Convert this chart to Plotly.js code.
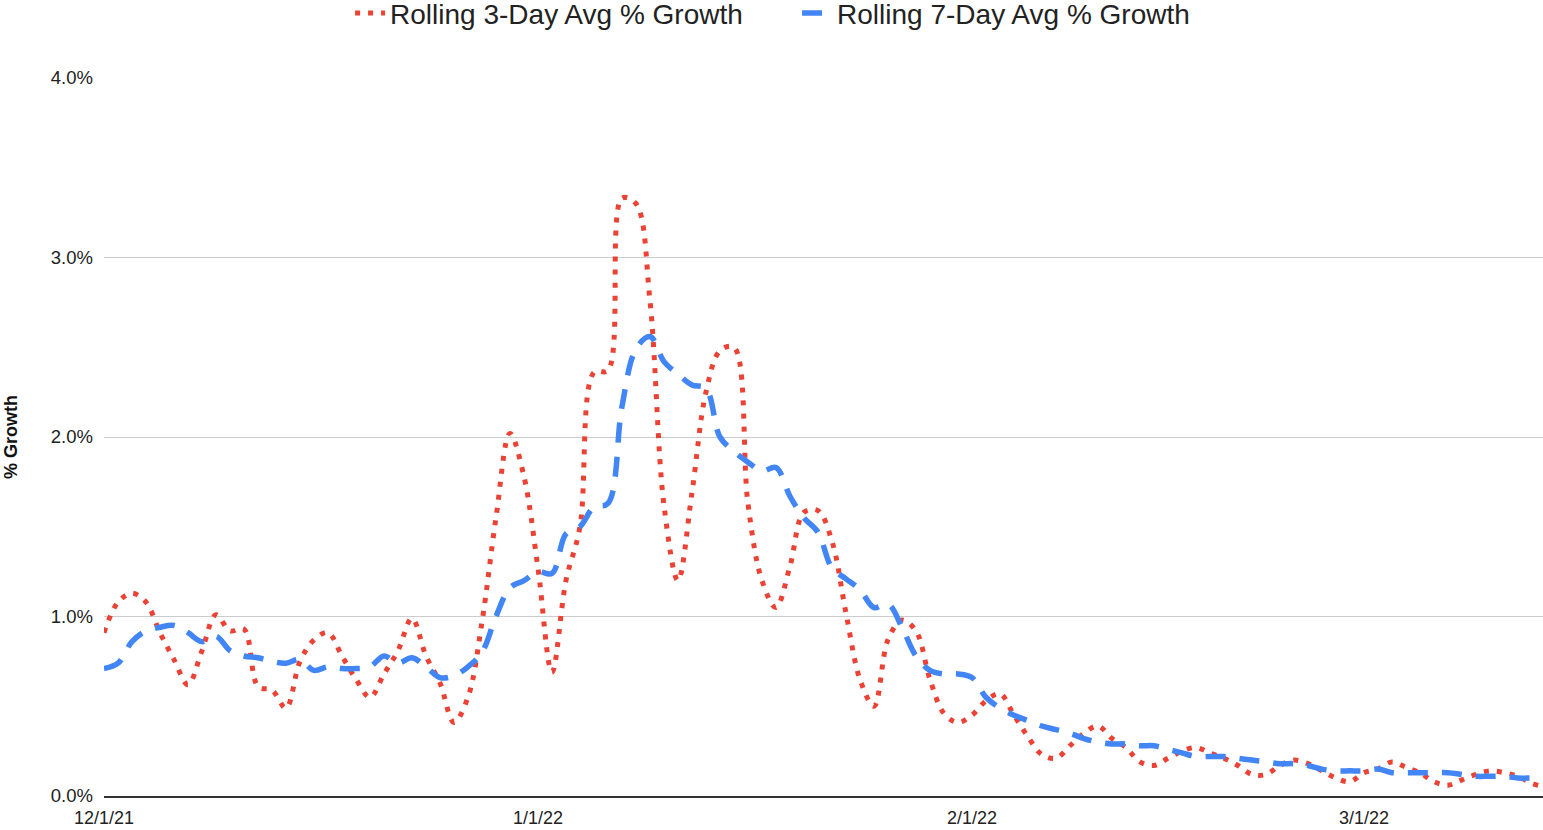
<!DOCTYPE html>
<html>
<head>
<meta charset="utf-8">
<script src="https://cdn.plot.ly/plotly-3.0.1.min.js"></script>
<style>html,body{margin:0;padding:0;background:#fff;}#chart{width:1543px;height:830px;}</style>
</head>
<body>
<div id="chart"></div>
<script>
const dates = [
'2021-12-01','2021-12-02','2021-12-03','2021-12-04','2021-12-05','2021-12-06','2021-12-07','2021-12-08','2021-12-09','2021-12-10',
'2021-12-11','2021-12-12','2021-12-13','2021-12-14','2021-12-15','2021-12-16','2021-12-17','2021-12-18','2021-12-19','2021-12-20',
'2021-12-21','2021-12-22','2021-12-23','2021-12-24','2021-12-25','2021-12-26','2021-12-27','2021-12-28','2021-12-29','2021-12-30',
'2021-12-31','2022-01-01','2022-01-02','2022-01-03','2022-01-04','2022-01-05','2022-01-06','2022-01-07','2022-01-08','2022-01-09',
'2022-01-10','2022-01-11','2022-01-12','2022-01-13','2022-01-14','2022-01-15','2022-01-16','2022-01-17','2022-01-18','2022-01-19',
'2022-01-20','2022-01-21','2022-01-22','2022-01-23','2022-01-24','2022-01-25','2022-01-26','2022-01-27','2022-01-28','2022-01-29',
'2022-01-30','2022-01-31','2022-02-01','2022-02-02','2022-02-03','2022-02-04','2022-02-05','2022-02-06','2022-02-07','2022-02-08',
'2022-02-09','2022-02-10','2022-02-11','2022-02-12','2022-02-13','2022-02-14','2022-02-15','2022-02-16','2022-02-17','2022-02-18',
'2022-02-19','2022-02-20','2022-02-21','2022-02-22','2022-02-23','2022-02-24','2022-02-25','2022-02-26','2022-02-27','2022-02-28',
'2022-03-01','2022-03-02','2022-03-03','2022-03-04','2022-03-05','2022-03-06','2022-03-07','2022-03-08','2022-03-09','2022-03-10',
'2022-03-11','2022-03-12','2022-03-13','2022-03-14'
];

// Rolling 3-day average % growth (in percent)
const rolling3 = [
0.91,1.08,1.13,1.08,0.91,0.76,0.62,0.81,1.01,0.92,
0.93,0.61,0.59,0.49,0.75,0.87,0.91,0.78,0.65,0.55,
0.68,0.81,0.99,0.78,0.63,0.41,0.55,0.97,1.55,2.02,
1.78,1.27,0.69,1.20,1.50,2.36,2.37,3.33,3.30,2.76,
1.62,1.20,1.69,2.25,2.48,2.50,1.63,1.20,1.05,1.28,
1.58,1.59,1.42,1.02,0.65,0.50,0.87,0.98,0.92,0.65,
0.46,0.41,0.45,0.53,0.57,0.45,0.33,0.23,0.21,0.28,
0.35,0.39,0.32,0.27,0.19,0.17,0.21,0.25,0.27,0.24,
0.21,0.17,0.12,0.12,0.17,0.20,0.18,0.14,0.10,0.08,
0.13,0.15,0.19,0.16,0.13,0.08,0.06,0.09,0.12,0.14,
0.13,0.11,0.07,0.05
];

// Rolling 7-day average % growth (in percent)
const rolling7 = [
0.71,0.74,0.86,0.92,0.94,0.95,0.91,0.86,0.89,0.81,
0.78,0.77,0.75,0.74,0.76,0.70,0.72,0.71,0.71,0.72,
0.78,0.74,0.77,0.72,0.66,0.67,0.72,0.80,1.00,1.16,
1.20,1.25,1.24,1.46,1.50,1.61,1.63,2.17,2.49,2.56,
2.42,2.35,2.29,2.27,2.00,1.92,1.86,1.81,1.83,1.67,
1.55,1.47,1.27,1.21,1.15,1.05,1.07,0.94,0.78,0.70,
0.68,0.68,0.66,0.55,0.49,0.45,0.42,0.39,0.37,0.35,
0.32,0.30,0.29,0.29,0.28,0.28,0.26,0.24,0.22,0.22,
0.22,0.21,0.20,0.19,0.18,0.18,0.17,0.15,0.14,0.14,
0.14,0.15,0.13,0.13,0.13,0.13,0.13,0.12,0.11,0.11,
0.11,0.10,0.10,0.10
];

const seriesNames = ['Rolling 3-Day Avg % Growth', 'Rolling 7-Day Avg % Growth'];
const xTickVals = ['2021-12-01', '2022-01-01', '2022-02-01', '2022-03-01'];
const xTickText = ['12/1/21', '1/1/22', '2/1/22', '3/1/22'];
const yTickVals = [0, 1, 2, 3, 4];
const yTickText = ['0.0%', '1.0%', '2.0%', '3.0%', '4.0%'];

const font = 'Arial, "Liberation Sans", sans-serif';

const traces = [
  {
    x: dates, y: rolling3, name: seriesNames[0], type: 'scatter', mode: 'lines',
    line: {color: '#ea4335', width: 5, dash: '5px,8px', shape: 'spline', smoothing: 1}
  },
  {
    x: dates, y: rolling7, name: seriesNames[1], type: 'scatter', mode: 'lines',
    line: {color: '#4285f4', width: 5.5, dash: '20px,14px', shape: 'spline', smoothing: 1}
  }
];

const layout = {
  width: 1543, height: 830,
  margin: {l: 104, r: 0, t: 78, b: 34, autoexpand: false},
  paper_bgcolor: '#fff', plot_bgcolor: '#fff',
  font: {family: font, color: '#444'},
  showlegend: true,
  legend: {
    orientation: 'h', x: 0.171, xanchor: 'left', y: 1.125, yanchor: 'top', yref: 'paper',
    font: {size: 28, color: '#222', family: font}, itemwidth: 30, traceorder: 'normal',
    entrywidth: 402, entrywidthmode: 'pixels', bgcolor: 'rgba(0,0,0,0)'
  },
  xaxis: {
    type: 'date',
    range: ['2021-12-01', '2022-03-13 19:00'],
    tickvals: xTickVals, ticktext: xTickText,
    tickfont: {size: 18, color: '#222'},
    showgrid: false, zeroline: false,
    showline: true, linecolor: '#333', linewidth: 2,
    ticks: '', ticklabelstandoff: 4, automargin: false
  },
  yaxis: {
    range: [0, 4],
    tickvals: yTickVals, ticktext: yTickText,
    tickfont: {size: 18.5, color: '#222'},
    showgrid: true, gridcolor: '#cccccc', gridwidth: 1,
    zeroline: false, showline: false,
    ticks: '', ticklabelstandoff: 10, automargin: false,
    title: {text: '<b>% Growth</b>', font: {size: 18, color: '#111'}, standoff: 28}
  }
};

Plotly.newPlot('chart', traces, layout, {displayModeBar: false, staticPlot: true});
</script>
</body>
</html>
